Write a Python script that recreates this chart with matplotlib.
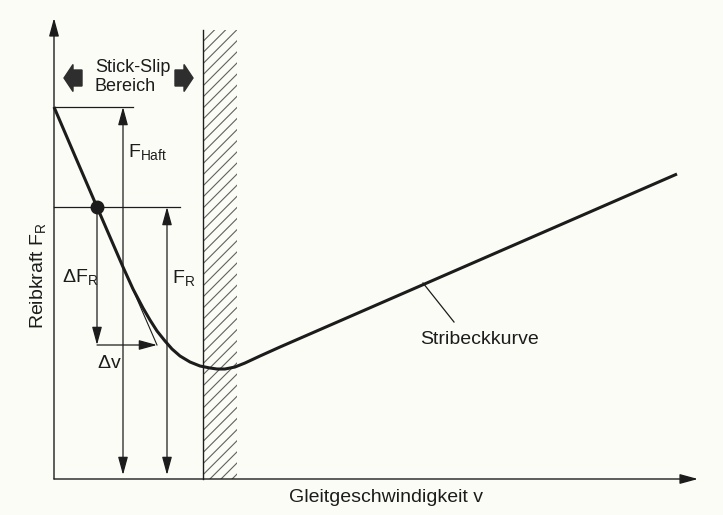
import matplotlib.pyplot as plt
from matplotlib.patches import Rectangle, FancyArrowPatch, Polygon

plt.rcParams['font.family'] = ['Liberation Sans', 'DejaVu Sans']
plt.rcParams['mathtext.fontset'] = 'custom'
plt.rcParams['mathtext.rm'] = 'Liberation Sans'
plt.rcParams['mathtext.it'] = 'Liberation Sans'
plt.rcParams['hatch.linewidth'] = 0.8

# Stribeck curve (v = Gleitgeschwindigkeit, F = Reibkraft), schematic units
v_curve = [0, 21, 43, 56, 69, 79, 89, 96, 103, 111, 118, 126, 136, 146, 156,
           163, 171, 181, 191, 206, 226, 623]
F_curve = [372, 323, 272, 242, 212, 190, 171, 159, 148, 138, 130, 123, 117,
           113, 111, 110, 110, 112, 116, 123, 132, 305]

F_haft = 372          # Haftreibung (start of curve)
v_op, F_op = 43, 272  # operating point
v_dv, F_dv = 103, 134 # end of tangent / Delta v
v_haftarrow = 69
v_frarrow = 113
hatch_v = (149, 183)  # stick-slip boundary band
hatch_top = 449

bg = '#fcfcf7'
ink = '#1c1c1c'

fig = plt.figure(figsize=(7.23, 5.15), dpi=100, facecolor=bg)
ax = fig.add_axes([0, 0, 1, 1])
ax.set_facecolor(bg)
ax.set_xlim(-54, 669)
ax.set_ylim(-36, 479)
ax.axis('off')

# axes with arrows
ax.annotate('', xy=(0, 461), xytext=(0, 0),
            arrowprops=dict(arrowstyle='-|>,head_length=1.1,head_width=0.3',
                            mutation_scale=10, lw=1.0, color=ink, shrinkA=0, shrinkB=0))
ax.annotate('', xy=(644, 0), xytext=(0, 0),
            arrowprops=dict(arrowstyle='-|>,head_length=1.1,head_width=0.3',
                            mutation_scale=10, lw=1.0, color=ink, shrinkA=0, shrinkB=0))

# hatched band
ax.add_patch(Rectangle((hatch_v[0], 0), hatch_v[1] - hatch_v[0], hatch_top,
                       fill=False, hatch='///', lw=0, edgecolor='#606060'))
ax.plot([hatch_v[0], hatch_v[0]], [0, hatch_top], color=ink, lw=1.0)

# helper lines
ax.plot([0, 79], [F_haft, F_haft], color=ink, lw=0.9)
ax.plot([0, 126], [F_op, F_op], color=ink, lw=0.9)
ax.plot([v_op, v_dv], [F_op, F_dv], color=ink, lw=0.8)


def arrow(p0, p1, style):
    ax.add_patch(FancyArrowPatch(p0, p1, arrowstyle=style, mutation_scale=10,
                                 lw=0.9, color=ink, shrinkA=0, shrinkB=0))


arrow((v_haftarrow, 4), (v_haftarrow, F_haft), '<|-|>,head_length=1.1,head_width=0.3')
arrow((v_frarrow, 4), (v_frarrow, F_op), '<|-|>,head_length=1.1,head_width=0.3')
arrow((v_op, F_op), (v_op, F_dv), '-|>,head_length=1.1,head_width=0.3')
arrow((v_op, F_dv), (v_dv, F_dv), '-|>,head_length=1.1,head_width=0.3')

# curve and operating point
ax.plot(v_curve, F_curve, color=ink, lw=2.2, solid_capstyle='butt',
        solid_joinstyle='round')
ax.plot([v_op], [F_op], 'o', color=ink, ms=9)

# Stribeckkurve leader
ax.plot([369, 400], [196, 157], color=ink, lw=0.9)

# block arrows for stick-slip region
for tip, base in [(10, 28), (139, 121)]:
    d = 1 if base > tip else -1
    hb = tip + d * 9
    fc = 401
    ax.add_patch(Polygon([(tip, fc), (hb, fc + 13.5), (hb, fc + 8), (base, fc + 8),
                          (base, fc - 8), (hb, fc - 8), (hb, fc - 13.5)],
                         closed=True, color='#2e2e2e'))

# texts
ax.text(41, 402, 'Stick-Slip\nBereich', fontsize=13, color=ink, ha='left',
        va='center', linespacing=1.2)
ax.text(74, 327, r'$\mathregular{F_{Haft}}$', fontsize=14, color=ink, ha='left', va='center')
ax.text(8, 202, r'$\mathregular{\Delta F_{R}}$', fontsize=14, color=ink, ha='left', va='center')
ax.text(118, 201, r'$\mathregular{F_{R}}$', fontsize=14, color=ink, ha='left', va='center')
ax.text(43, 116, r'$\mathregular{\Delta v}$', fontsize=14, color=ink, ha='left', va='center')
ax.text(-16, 203, r'Reibkraft $\mathregular{F_{R}}$', fontsize=14, color=ink,
        rotation=90, ha='center', va='center')
ax.text(366, 139, 'Stribeckkurve', fontsize=14, color=ink, ha='left', va='center')
ax.text(332, -19, 'Gleitgeschwindigkeit v', fontsize=14, color=ink, ha='center', va='center')

fig.savefig('out.png', dpi=100, facecolor=bg)
